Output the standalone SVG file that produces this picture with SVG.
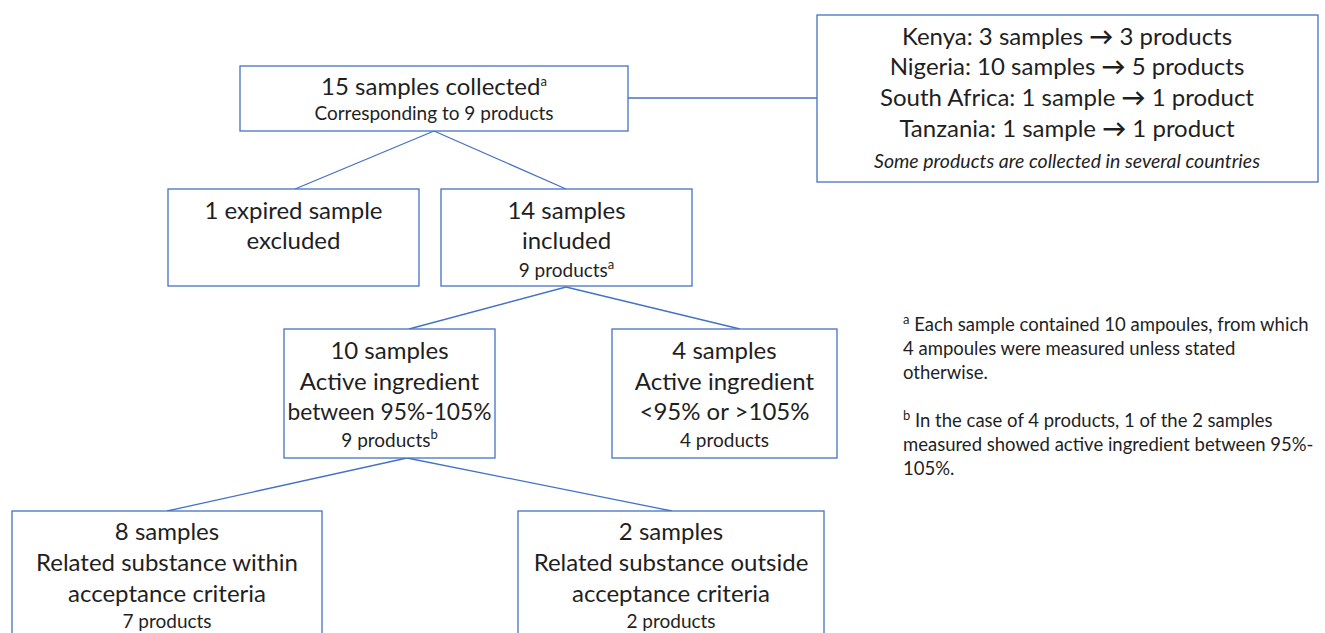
<svg xmlns="http://www.w3.org/2000/svg" width="1325" height="633" viewBox="0 0 1325 633">
<style>
.box{fill:#fff;stroke:#4472C4;stroke-width:1.3}
.ln{stroke:#4472C4;stroke-width:1.3;fill:none}
text{font-family:Lato,"Open Sans",sans-serif;fill:#1f1f1f;text-anchor:middle}
.b{font-size:24px}
.s{font-size:19px}
.i{font-size:19.5px;font-style:italic}
.fn{font-size:18.5px;text-anchor:start}
.sup{font-size:13px}
</style>
<rect width="1325" height="633" fill="#fff"/>
<g id="connectors">
<line class="ln" x1="628" y1="98" x2="817" y2="98"/>
<line class="ln" x1="434" y1="131" x2="295" y2="189"/>
<line class="ln" x1="434" y1="131" x2="566" y2="189"/>
<line class="ln" x1="566" y1="287" x2="409" y2="329"/>
<line class="ln" x1="566" y1="287" x2="740" y2="329"/>
<line class="ln" x1="407" y1="458" x2="167" y2="511"/>
<line class="ln" x1="407" y1="458" x2="672" y2="511"/>
</g>
<g id="n-collected">
<rect class="box" x="240" y="66" width="388" height="65"/>
<text class="b" x="434" y="95">15 samples collected<tspan class="sup" dy="-9">a</tspan></text>
<text class="s" x="434" y="120">Corresponding to 9 products</text>
</g>
<g id="n-countries">
<rect class="box" x="817" y="15" width="501" height="167"/>
<text class="b" x="1067" y="45">Kenya: 3 samples <tspan font-weight="bold">→</tspan> 3 products</text>
<text class="b" x="1067" y="75">Nigeria: 10 samples <tspan font-weight="bold">→</tspan> 5 products</text>
<text class="b" x="1067" y="106">South Africa: 1 sample <tspan font-weight="bold">→</tspan> 1 product</text>
<text class="b" x="1067" y="137">Tanzania: 1 sample <tspan font-weight="bold">→</tspan> 1 product</text>
<text class="i" x="1067" y="168">Some products are collected in several countries</text>
</g>
<g id="n-expired">
<rect class="box" x="168" y="189" width="251" height="97"/>
<text class="b" x="293.5" y="219">1 expired sample</text>
<text class="b" x="293.5" y="249">excluded</text>
</g>
<g id="n-included">
<rect class="box" x="441" y="189" width="251" height="97"/>
<text class="b" x="566.5" y="219">14 samples</text>
<text class="b" x="566.5" y="249">included</text>
<text class="s" x="566.5" y="277">9 products<tspan class="sup" dy="-8">a</tspan></text>
</g>
<g id="n-within">
<rect class="box" x="284" y="329" width="211" height="129"/>
<text class="b" x="389.5" y="359">10 samples</text>
<text class="b" x="389.5" y="390">Active ingredient</text>
<text class="b" x="389.5" y="420" textLength="204" lengthAdjust="spacingAndGlyphs">between 95%-105%</text>
<text class="s" x="389.5" y="447">9 products<tspan class="sup" dy="-8">b</tspan></text>
</g>
<g id="n-outside">
<rect class="box" x="612" y="329" width="225" height="129"/>
<text class="b" x="724.5" y="359">4 samples</text>
<text class="b" x="724.5" y="390">Active ingredient</text>
<text class="b" x="724.5" y="420">&lt;95% or &gt;105%</text>
<text class="s" x="724.5" y="447">4 products</text>
</g>
<g id="n-rs-within">
<rect class="box" x="12" y="511" width="310" height="130"/>
<text class="b" x="167" y="540">8 samples</text>
<text class="b" x="167" y="571">Related substance within</text>
<text class="b" x="167" y="602">acceptance criteria</text>
<text class="s" x="167" y="628">7 products</text>
</g>
<g id="n-rs-outside">
<rect class="box" x="518" y="511" width="306" height="130"/>
<text class="b" x="671" y="540">2 samples</text>
<text class="b" x="671" y="571">Related substance outside</text>
<text class="b" x="671" y="602">acceptance criteria</text>
<text class="s" x="671" y="628">2 products</text>
</g>
<g id="footnotes">
<text class="fn" x="903" y="331"><tspan class="sup" dy="-7">a</tspan><tspan dy="7"> Each sample contained 10 ampoules, from which</tspan></text>
<text class="fn" x="903" y="355">4 ampoules were measured unless stated</text>
<text class="fn" x="903" y="379">otherwise.</text>
<text class="fn" x="903" y="427"><tspan class="sup" dy="-7">b</tspan><tspan dy="7"> In the case of 4 products, 1 of the 2 samples</tspan></text>
<text class="fn" x="903" y="451">measured showed active ingredient between 95%-</text>
<text class="fn" x="903" y="475">105%.</text>
</g>
</svg>
